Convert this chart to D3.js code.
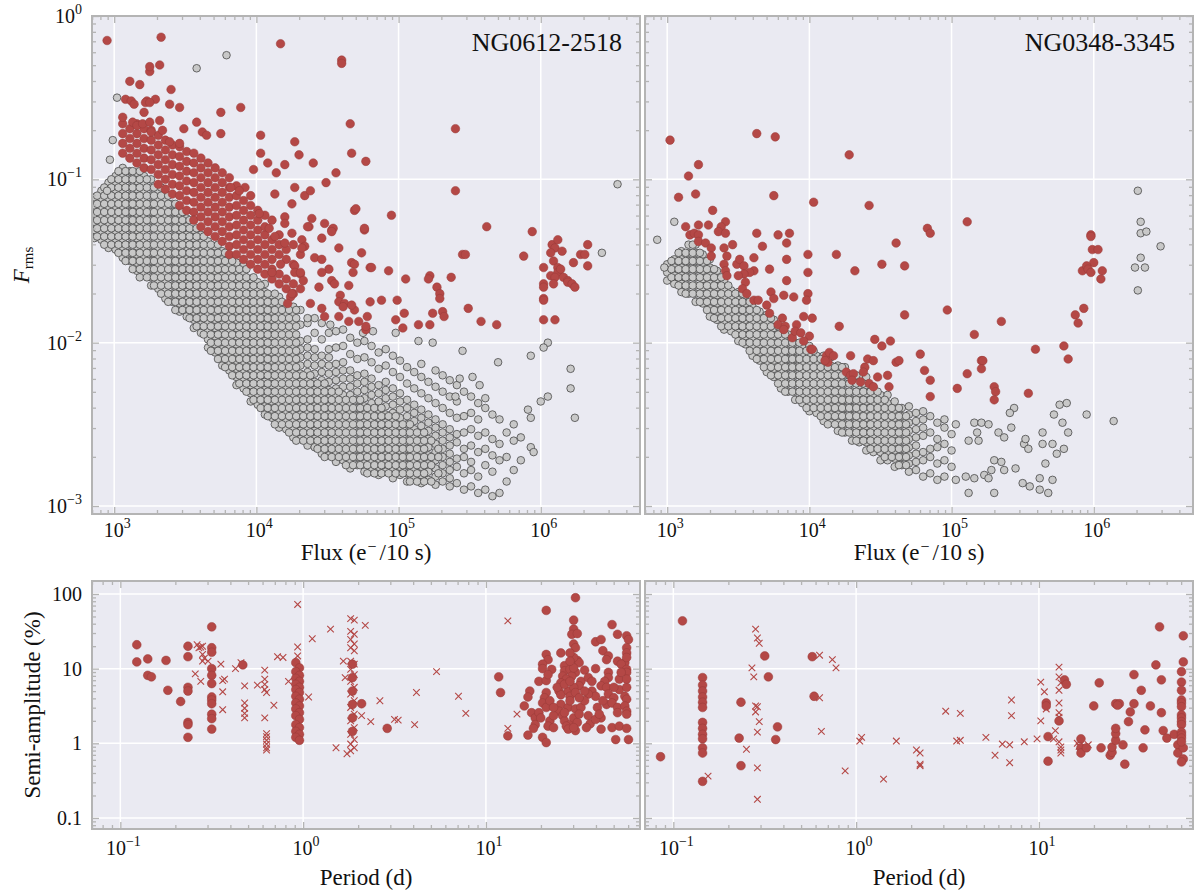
<!DOCTYPE html>
<html><head><meta charset="utf-8">
<script src="https://cdnjs.cloudflare.com/ajax/libs/d3/7.8.5/d3.min.js"></script>
<style>
body{margin:0;background:#fff}
svg{display:block}
text{font-family:"Liberation Serif","DejaVu Serif","Times New Roman",serif;fill:#111}
</style></head>
<body><svg id="chart" width="1200" height="891"></svg>
<script>
// ---------------- DATA (all values stored as log10) ----------------
const fluxTicks = [1e3, 1e4, 1e5, 1e6];
const fluxTickExp = ["3", "4", "5", "6"];
const frmsTicks = [1, 1e-1, 1e-2, 1e-3];
const frmsTickExp = ["0", "\u22121", "\u22122", "\u22123"];
const periodTicks = [0.1, 1, 10];
const periodTickExp = ["\u22121", "0", "1"];
const ampTicks = [100, 10, 1, 0.1];
const ampTickLabels = ["100", "10", "1", "0.1"];
const fieldNames = ["NG0612-2518", "NG0348-3345"];

// NG0612-2518 non-variable stars: columns [log10 flux, log10 Frms ...]
const grayColsA = [
[2.86,-1.36,-1.31,-1.26,-1.21,-1.16,-1.11],
[2.91,-1.37,-1.32,-1.27,-1.22,-1.17,-1.12,-1.07],
[2.96,-1.42,-1.37,-1.32,-1.27,-1.22,-1.17,-1.12,-1.07,-1.02],
[3.01,-1.43,-1.38,-1.33,-1.28,-1.23,-1.18,-1.13,-1.08,-1.03,-0.98],
[3.06,-1.48,-1.43,-1.38,-1.33,-1.28,-1.23,-1.18,-1.13,-1.08,-1.03,-0.98,-0.93],
[3.11,-1.50,-1.45,-1.40,-1.35,-1.30,-1.25,-1.20,-1.15,-1.10,-1.05,-1.00,-0.95],
[3.16,-1.56,-1.51,-1.46,-1.41,-1.36,-1.31,-1.26,-1.21,-1.16,-1.11,-1.06,-1.01,-0.96],
[3.21,-1.58,-1.53,-1.48,-1.43,-1.38,-1.33,-1.28,-1.23,-1.18,-1.13,-1.08,-1.03,-0.98],
[3.26,-1.65,-1.60,-1.55,-1.50,-1.45,-1.40,-1.35,-1.30,-1.25,-1.20,-1.15,-1.10,-1.05,-1.00],
[3.31,-1.67,-1.62,-1.57,-1.52,-1.47,-1.42,-1.37,-1.32,-1.27,-1.22,-1.17,-1.12,-1.07],
[3.36,-1.73,-1.68,-1.63,-1.58,-1.53,-1.48,-1.43,-1.38,-1.33,-1.28,-1.23,-1.18,-1.13,-1.08],
[3.41,-1.75,-1.70,-1.65,-1.60,-1.55,-1.50,-1.45,-1.40,-1.35,-1.30,-1.25,-1.20,-1.15],
[3.46,-1.81,-1.76,-1.71,-1.66,-1.61,-1.56,-1.51,-1.46,-1.41,-1.36,-1.31,-1.26,-1.21],
[3.51,-1.84,-1.79,-1.74,-1.69,-1.64,-1.59,-1.54,-1.49,-1.44,-1.39,-1.34,-1.29,-1.24],
[3.56,-1.91,-1.86,-1.81,-1.76,-1.71,-1.66,-1.61,-1.56,-1.51,-1.46,-1.41,-1.36,-1.31],
[3.61,-1.94,-1.89,-1.84,-1.79,-1.74,-1.69,-1.64,-1.59,-1.54,-1.49,-1.44,-1.39,-1.34],
[3.66,-2.03,-1.98,-1.93,-1.88,-1.83,-1.78,-1.73,-1.68,-1.63,-1.58,-1.53,-1.48,-1.43,-1.38],
[3.71,-2.06,-2.01,-1.96,-1.91,-1.86,-1.81,-1.76,-1.71,-1.66,-1.61,-1.56,-1.51,-1.46,-1.41],
[3.76,-2.14,-2.09,-2.04,-1.99,-1.94,-1.89,-1.84,-1.79,-1.74,-1.69,-1.64,-1.59,-1.54,-1.49,-1.44],
[3.81,-2.17,-2.12,-2.07,-2.02,-1.97,-1.92,-1.87,-1.82,-1.77,-1.72,-1.67,-1.62,-1.57,-1.52,-1.47],
[3.86,-2.26,-2.21,-2.16,-2.11,-2.06,-2.01,-1.96,-1.91,-1.86,-1.81,-1.76,-1.71,-1.66,-1.61,-1.56,-1.51],
[3.91,-2.28,-2.23,-2.18,-2.13,-2.08,-2.03,-1.98,-1.93,-1.88,-1.83,-1.78,-1.73,-1.68,-1.63,-1.58,-1.53],
[3.96,-2.36,-2.31,-2.26,-2.21,-2.16,-2.11,-2.06,-2.01,-1.96,-1.91,-1.86,-1.81,-1.76,-1.71,-1.66,-1.61],
[4.01,-2.38,-2.33,-2.28,-2.23,-2.18,-2.13,-2.08,-2.03,-1.98,-1.93,-1.88,-1.83,-1.78,-1.73,-1.68,-1.63],
[4.06,-2.44,-2.39,-2.34,-2.29,-2.24,-2.19,-2.14,-2.09,-2.04,-1.99,-1.94,-1.89,-1.84,-1.79,-1.74,-1.69,-1.64],
[4.11,-2.46,-2.41,-2.36,-2.31,-2.26,-2.21,-2.16,-2.11,-2.06,-2.01,-1.96,-1.91,-1.86,-1.81,-1.76,-1.71],
[4.16,-2.52,-2.47,-2.42,-2.37,-2.32,-2.27,-2.22,-2.17,-2.12,-2.07,-2.02,-1.97,-1.92,-1.87,-1.82,-1.77,-1.72],
[4.21,-2.53,-2.48,-2.43,-2.38,-2.33,-2.28,-2.23,-2.18,-2.13,-2.08,-2.03,-1.98,-1.93,-1.88,-1.83,-1.78],
[4.26,-2.58,-2.53,-2.48,-2.43,-2.38,-2.33,-2.28,-2.23,-2.18,-2.13,-2.08,-2.03,-1.98,-1.93,-1.88,-1.83,-1.78],
[4.31,-2.59,-2.54,-2.49,-2.44,-2.39,-2.34,-2.29,-2.24,-2.19,-2.14,-2.09,-2.04,-1.99,-1.89,-1.80],
[4.36,-2.63,-2.58,-2.53,-2.48,-2.43,-2.38,-2.33,-2.28,-2.23,-2.18,-2.13,-2.08,-2.03,-1.98,-1.88],
[4.41,-2.64,-2.59,-2.54,-2.49,-2.44,-2.39,-2.34,-2.29,-2.24,-2.19,-2.14,-2.09,-2.04,-1.94,-1.85],
[4.46,-2.68,-2.63,-2.58,-2.53,-2.48,-2.43,-2.38,-2.33,-2.28,-2.23,-2.18,-2.13,-2.08,-1.98,-1.88],
[4.51,-2.69,-2.64,-2.59,-2.54,-2.49,-2.44,-2.39,-2.34,-2.29,-2.24,-2.19,-2.14,-2.09,-2.04,-1.94],
[4.56,-2.73,-2.68,-2.63,-2.58,-2.53,-2.48,-2.43,-2.38,-2.33,-2.28,-2.23,-2.18,-2.13,-2.03,-1.93],
[4.61,-2.72,-2.67,-2.62,-2.57,-2.52,-2.47,-2.42,-2.37,-2.32,-2.27,-2.22,-2.17,-2.12,-2.02,-1.92],
[4.66,-2.77,-2.72,-2.67,-2.62,-2.57,-2.52,-2.47,-2.42,-2.37,-2.32,-2.27,-2.22,-2.17,-2.07,-1.97],
[4.71,-2.75,-2.70,-2.65,-2.60,-2.55,-2.50,-2.45,-2.40,-2.35,-2.30,-2.25,-2.20,-2.10,-2.00],
[4.76,-2.79,-2.74,-2.69,-2.64,-2.59,-2.54,-2.49,-2.44,-2.39,-2.34,-2.29,-2.24,-2.19,-2.09,-1.99],
[4.81,-2.77,-2.72,-2.67,-2.62,-2.57,-2.52,-2.47,-2.42,-2.37,-2.32,-2.27,-2.22,-2.12,-2.02],
[4.86,-2.81,-2.76,-2.71,-2.66,-2.61,-2.56,-2.51,-2.46,-2.41,-2.36,-2.31,-2.26,-2.16,-2.06],
[4.91,-2.79,-2.74,-2.69,-2.64,-2.59,-2.54,-2.49,-2.44,-2.39,-2.34,-2.29,-2.24,-2.14,-2.04],
[4.96,-2.83,-2.78,-2.73,-2.68,-2.63,-2.58,-2.53,-2.48,-2.43,-2.38,-2.33,-2.28,-2.18,-2.08],
[5.01,-2.81,-2.76,-2.71,-2.66,-2.61,-2.56,-2.51,-2.46,-2.41,-2.36,-2.31,-2.21,-2.11],
[5.06,-2.85,-2.80,-2.75,-2.70,-2.65,-2.60,-2.55,-2.50,-2.45,-2.40,-2.35,-2.25,-2.15],
[5.11,-2.83,-2.78,-2.73,-2.68,-2.63,-2.58,-2.53,-2.48,-2.43,-2.38,-2.28,-2.18],
[5.16,-2.86,-2.81,-2.76,-2.71,-2.66,-2.61,-2.56,-2.51,-2.46,-2.41,-2.31,-2.21,-2.13],
[5.21,-2.84,-2.79,-2.74,-2.69,-2.64,-2.59,-2.54,-2.49,-2.44,-2.34,-2.24],
[5.26,-2.87,-2.82,-2.77,-2.72,-2.67,-2.62,-2.57,-2.52,-2.47,-2.37,-2.27,-2.17],
[5.31,-2.85,-2.80,-2.75,-2.70,-2.65,-2.60,-2.55,-2.50,-2.40,-2.30,-2.20],
[5.36,-2.88,-2.83,-2.78,-2.73,-2.68,-2.63,-2.58,-2.53,-2.43,-2.33,-2.23],
[5.41,-2.86,-2.76,-2.71,-2.61,-2.56,-2.46,-2.36,-2.26],
[5.46,-2.90,-2.80,-2.70,-2.65,-2.55,-2.45,-2.30],
[5.51,-2.88,-2.78,-2.73,-2.63,-2.53,-2.43,-2.33],
[5.56,-2.92,-2.82,-2.67,-2.57,-2.47,-2.37],
[5.61,-2.90,-2.75,-2.65,-2.55,-2.40],
[5.66,-2.94,-2.79,-2.69,-2.59,-2.44],
[5.71,-2.92,-2.72,-2.62,-2.47],
[5.76,-2.85,-2.70,-2.55],
[5.81,-2.78,-2.60,-2.50],
[5.86,-2.72,-2.58]
];
// NG0612-2518 non-variable stars, interleaved columns of the dense core
const grayColsA2 = [
[2.88,-1.35,-1.30,-1.25,-1.20,-1.15,-1.10],
[2.93,-1.40,-1.35,-1.30,-1.25,-1.20,-1.15,-1.10,-1.05],
[2.98,-1.40,-1.35,-1.30,-1.25,-1.20,-1.15,-1.10,-1.05,-1.00],
[3.03,-1.45,-1.40,-1.35,-1.30,-1.25,-1.20,-1.15,-1.10,-1.05,-1.00,-0.95],
[3.08,-1.50,-1.45,-1.40,-1.35,-1.30,-1.25,-1.20,-1.15,-1.10,-1.05,-1.00,-0.95],
[3.13,-1.55,-1.50,-1.45,-1.40,-1.35,-1.30,-1.25,-1.20,-1.15,-1.10,-1.05,-1.00,-0.95],
[3.18,-1.60,-1.55,-1.50,-1.45,-1.40,-1.35,-1.30,-1.25,-1.20,-1.15,-1.10,-1.05,-1.00,-0.95],
[3.23,-1.60,-1.55,-1.50,-1.45,-1.40,-1.35,-1.30,-1.25,-1.20,-1.15,-1.10,-1.05,-1.00],
[3.28,-1.65,-1.60,-1.55,-1.50,-1.45,-1.40,-1.35,-1.30,-1.25,-1.20,-1.15,-1.10,-1.05],
[3.33,-1.70,-1.65,-1.60,-1.55,-1.50,-1.45,-1.40,-1.35,-1.30,-1.25,-1.20,-1.15,-1.10,-1.05],
[3.38,-1.75,-1.70,-1.65,-1.60,-1.55,-1.50,-1.45,-1.40,-1.35,-1.30,-1.25,-1.20,-1.15,-1.10],
[3.43,-1.80,-1.75,-1.70,-1.65,-1.60,-1.55,-1.50,-1.45,-1.40,-1.35,-1.30,-1.25,-1.20,-1.15],
[3.48,-1.80,-1.75,-1.70,-1.65,-1.60,-1.55,-1.50,-1.45,-1.40,-1.35,-1.30,-1.25,-1.20],
[3.53,-1.85,-1.80,-1.75,-1.70,-1.65,-1.60,-1.55,-1.50,-1.45,-1.40,-1.35,-1.30,-1.25],
[3.58,-1.90,-1.85,-1.80,-1.75,-1.70,-1.65,-1.60,-1.55,-1.50,-1.45,-1.40,-1.35,-1.30],
[3.63,-1.95,-1.90,-1.85,-1.80,-1.75,-1.70,-1.65,-1.60,-1.55,-1.50,-1.45,-1.40,-1.35],
[3.68,-2.05,-2.00,-1.95,-1.90,-1.85,-1.80,-1.75,-1.70,-1.65,-1.60,-1.55,-1.50,-1.45,-1.40],
[3.73,-2.10,-2.05,-2.00,-1.95,-1.90,-1.85,-1.80,-1.75,-1.70,-1.65,-1.60,-1.55,-1.50,-1.45,-1.40],
[3.78,-2.15,-2.10,-2.05,-2.00,-1.95,-1.90,-1.85,-1.80,-1.75,-1.70,-1.65,-1.60,-1.55,-1.50,-1.45],
[3.83,-2.20,-2.15,-2.10,-2.05,-2.00,-1.95,-1.90,-1.85,-1.80,-1.75,-1.70,-1.65,-1.60,-1.55,-1.50],
[3.88,-2.25,-2.20,-2.15,-2.10,-2.05,-2.00,-1.95,-1.90,-1.85,-1.80,-1.75,-1.70,-1.65,-1.60,-1.55],
[3.93,-2.30,-2.25,-2.20,-2.15,-2.10,-2.05,-2.00,-1.95,-1.90,-1.85,-1.80,-1.75,-1.70,-1.65,-1.60,-1.55],
[3.98,-2.35,-2.30,-2.25,-2.20,-2.15,-2.10,-2.05,-2.00,-1.95,-1.90,-1.85,-1.80,-1.75,-1.70,-1.65,-1.60],
[4.03,-2.40,-2.35,-2.30,-2.25,-2.20,-2.15,-2.10,-2.05,-2.00,-1.95,-1.90,-1.85,-1.80,-1.75,-1.70,-1.65],
[4.08,-2.45,-2.40,-2.35,-2.30,-2.25,-2.20,-2.15,-2.10,-2.05,-2.00,-1.95,-1.90,-1.85,-1.80,-1.75,-1.70],
[4.13,-2.50,-2.45,-2.40,-2.35,-2.30,-2.25,-2.20,-2.15,-2.10,-2.05,-2.00,-1.95,-1.90,-1.85,-1.80,-1.75,-1.70],
[4.18,-2.50,-2.45,-2.40,-2.35,-2.30,-2.25,-2.20,-2.15,-2.10,-2.05,-2.00,-1.95,-1.90,-1.85,-1.80,-1.75],
[4.23,-2.55,-2.50,-2.45,-2.40,-2.35,-2.30,-2.25,-2.20,-2.15,-2.10,-2.05,-2.00,-1.95,-1.90,-1.85,-1.80],
[4.28,-2.60,-2.55,-2.50,-2.45,-2.40,-2.35,-2.30,-2.25,-2.20,-2.15,-2.10,-2.05,-2.00,-1.95,-1.90,-1.85,-1.80],
[4.33,-2.60,-2.55,-2.50,-2.45,-2.40,-2.35,-2.30,-2.25,-2.20],
[4.38,-2.60,-2.55,-2.50,-2.45,-2.40,-2.35,-2.30,-2.25,-2.20],
[4.43,-2.65,-2.60,-2.55,-2.50,-2.45,-2.40,-2.35,-2.30,-2.25],
[4.48,-2.70,-2.65,-2.60,-2.55,-2.50,-2.45,-2.40,-2.35,-2.30,-2.25],
[4.53,-2.70,-2.65,-2.60,-2.55,-2.50,-2.45,-2.40,-2.35,-2.30],
[4.58,-2.70,-2.65,-2.60,-2.55,-2.50,-2.45,-2.40,-2.35,-2.30],
[4.63,-2.75,-2.70,-2.65,-2.60,-2.55,-2.50,-2.45,-2.40,-2.35],
[4.68,-2.75,-2.70,-2.65,-2.60,-2.55,-2.50,-2.45,-2.40,-2.35],
[4.73,-2.75,-2.70,-2.65,-2.60,-2.55,-2.50,-2.45,-2.40,-2.35],
[4.78,-2.80,-2.75,-2.70,-2.65,-2.60,-2.55,-2.50,-2.45,-2.40],
[4.83,-2.80,-2.75,-2.70,-2.65,-2.60,-2.55,-2.50,-2.45,-2.40],
[4.88,-2.80,-2.75,-2.70,-2.65,-2.60,-2.55,-2.50,-2.45,-2.40],
[4.93,-2.80,-2.75,-2.70,-2.65,-2.60,-2.55,-2.50,-2.45],
[4.98,-2.80,-2.75,-2.70,-2.65,-2.60,-2.55,-2.50,-2.45],
[5.03,-2.80,-2.75,-2.70,-2.65,-2.60,-2.55,-2.50],
[5.08,-2.85,-2.80,-2.75,-2.70,-2.65,-2.60,-2.55,-2.50],
[5.13,-2.85,-2.80,-2.75,-2.70,-2.65,-2.60,-2.55],
[5.18,-2.85,-2.80,-2.75,-2.70,-2.65,-2.60,-2.55],
[5.23,-2.85,-2.75,-2.70,-2.60],
[5.28,-2.80,-2.70,-2.65]
];
// NG0612-2518 isolated non-variable stars [log10 flux, log10 Frms]
const grayPtsA = [
[3.02,-0.50],[2.99,-0.76],[2.97,-0.88],[2.95,-1.07],[3.58,-0.32],[3.79,-0.24],[6.54,-1.03],[6.43,-1.45],
[6.05,-2.00],[6.02,-2.03],[5.93,-2.08],[5.70,-2.12],[6.21,-2.16],[6.21,-2.28],[6.24,-2.46],[6.05,-2.33],
[6.00,-2.36],[5.91,-2.41],[5.93,-2.46],[5.93,-2.64],[5.95,-2.67],[5.14,-1.99],[5.24,-2.00],[5.45,-2.05],
[5.52,-2.21],[5.43,-2.22],[5.57,-2.26],[5.40,-2.33],[5.61,-2.34],[4.36,-1.85],[4.52,-1.89],[4.75,-1.94],
[4.82,-1.93],[4.98,-1.94]
];
// NG0612-2518 variable stars, dense band: columns [log10 flux, log10 Frms ...]
const redColsA = [
[3.06,-0.66,-0.72,-0.78,-0.84],
[3.11,-0.69,-0.75,-0.81,-0.87],
[3.16,-0.66,-0.72,-0.78,-0.84,-0.90],
[3.21,-0.69,-0.75,-0.81,-0.87,-0.93],
[3.26,-0.70,-0.76,-0.82,-0.88,-0.94],
[3.31,-0.73,-0.79,-0.85,-0.91,-0.97,-1.03],
[3.36,-0.76,-0.82,-0.88,-0.94,-1.00,-1.06],
[3.41,-0.79,-0.85,-0.91,-0.97,-1.03,-1.09],
[3.46,-0.80,-0.86,-0.92,-0.98,-1.04,-1.10,-1.16],
[3.51,-0.83,-0.89,-0.95,-1.01,-1.07,-1.13,-1.19],
[3.56,-0.84,-0.90,-0.96,-1.02,-1.08,-1.14,-1.20,-1.25],
[3.61,-0.87,-0.93,-0.99,-1.05,-1.11,-1.17,-1.23,-1.29],
[3.66,-0.90,-0.96,-1.02,-1.08,-1.14,-1.20,-1.26,-1.32],
[3.71,-0.93,-0.99,-1.05,-1.11,-1.17,-1.23,-1.29,-1.35],
[3.76,-0.96,-1.02,-1.08,-1.14,-1.20,-1.26,-1.32,-1.38],
[3.81,-0.99,-1.05,-1.11,-1.17,-1.23,-1.29,-1.35,-1.41,-1.46],
[3.86,-1.04,-1.10,-1.16,-1.22,-1.28,-1.34,-1.40,-1.46],
[3.91,-1.13,-1.19,-1.25,-1.31,-1.37,-1.43,-1.49],
[3.96,-1.10,-1.16,-1.22,-1.28,-1.34,-1.40,-1.46,-1.52],
[4.01,-1.19,-1.25,-1.31,-1.37,-1.43,-1.49,-1.55],
[4.06,-1.22,-1.34,-1.40,-1.46,-1.52,-1.58],
[4.11,-1.25,-1.37,-1.43,-1.49,-1.55,-1.61],
[4.16,-1.34,-1.40,-1.46,-1.58,-1.64],
[4.21,-1.43,-1.49,-1.61,-1.67],
[4.26,-1.40,-1.52,-1.64,-1.70],
[4.31,-1.46,-1.58,-1.67]
];
// NG0612-2518 variable stars, scattered [log10 flux, log10 Frms]
const redPtsA = [
[2.95,-0.15],[3.33,-0.13],[4.17,-0.17],[4.60,-0.27],[4.60,-0.29],[3.11,-0.40],[3.18,-0.42],[3.25,-0.34],
[3.25,-0.31],[3.32,-0.30],[3.40,-0.45],[3.08,-0.51],[3.12,-0.52],[3.14,-0.54],[3.23,-0.52],[3.29,-0.51],
[3.39,-0.54],[3.46,-0.56],[3.21,-0.59],[3.22,-0.53],[3.25,-0.53],[3.06,-0.62],[3.13,-0.65],[3.16,-0.67],
[3.20,-0.66],[3.25,-0.65],[3.32,-0.64],[3.26,-0.71],[3.34,-0.70],[3.39,-0.77],[3.46,-0.78],[3.49,-0.69],
[3.58,-0.65],[3.62,-0.71],[3.65,-0.73],[3.75,-0.59],[3.75,-0.72],[3.89,-0.56],[4.03,-0.73],[4.27,-0.77],
[4.30,-0.85],[4.66,-0.66],[4.67,-0.84],[4.77,-0.89],[4.03,-0.84],[4.08,-0.90],[4.20,-0.91],[4.14,-0.96],
[3.98,-0.94],[4.40,-0.90],[4.56,-0.96],[4.49,-1.02],[4.69,-1.19],[4.76,-1.31],[4.80,-1.54],[5.40,-0.69],
[5.40,-1.07],[3.82,-1.05],[3.92,-1.05],[3.88,-1.07],[4.13,-1.09],[4.25,-1.15],[4.27,-1.05],[4.34,-1.10],
[4.38,-1.07],[4.39,-1.24],[4.20,-1.23],[4.20,-1.27],[4.02,-1.21],[4.06,-1.29],[4.09,-1.30],[4.13,-1.35],
[4.25,-1.33],[4.32,-1.37],[4.34,-1.41],[4.20,-1.39],[4.37,-1.29],[4.48,-1.27],[4.53,-1.31],[4.46,-1.36],
[4.58,-1.42],[4.67,-1.51],[4.69,-1.52],[4.74,-1.45],[4.41,-1.48],[4.46,-1.49],[4.51,-1.55],[4.53,-1.62],
[4.55,-1.64],[4.46,-1.57],[4.44,-1.66],[4.27,-1.53],[4.27,-1.57],[4.31,-1.57],[4.17,-1.52],[4.11,-1.57],
[4.59,-1.71],[4.65,-1.65],[4.69,-1.80],[4.58,-1.75],[4.62,-1.76],[4.38,-1.76],[4.46,-1.79],[4.48,-1.84],
[4.58,-1.84],[4.65,-1.87],[4.72,-1.87],[4.77,-1.92],[4.24,-1.72],[4.25,-1.70],[4.22,-1.76],[4.70,-1.18],
[4.95,-1.22],[4.36,-1.29],[4.54,-1.30],[4.53,-1.32],[4.76,-1.30],[5.62,-1.29],[5.94,-1.32],[4.32,-1.42],
[4.81,-1.54],[4.93,-1.56],[5.45,-1.46],[5.47,-1.46],[4.68,-1.57],[4.33,-1.62],[5.05,-1.61],[5.22,-1.59],
[5.21,-1.61],[5.37,-1.60],[4.61,-1.78],[4.67,-1.77],[4.80,-1.75],[4.88,-1.74],[4.99,-1.74],[5.27,-1.66],
[5.29,-1.70],[5.29,-1.73],[4.78,-1.84],[4.77,-1.90],[4.98,-1.86],[5.04,-1.82],[5.03,-1.91],[5.14,-1.89],
[5.22,-1.89],[5.24,-1.82],[5.31,-1.81],[5.32,-1.84],[5.49,-1.79],[5.58,-1.87],[5.69,-1.89],
[5.88,-1.47],[6.02,-1.54],[6.08,-1.40],[6.12,-1.37],[6.10,-1.42],[6.15,-1.44],[6.07,-1.45],[6.09,-1.50],
[6.23,-1.51],[6.33,-1.40],[6.28,-1.46],[6.31,-1.46],[6.33,-1.53],[6.12,-1.54],[6.12,-1.57],[6.14,-1.55],
[6.07,-1.59],[6.10,-1.60],[6.16,-1.60],[6.19,-1.62],[6.19,-1.63],[6.22,-1.64],[6.24,-1.66],[6.02,-1.64],
[6.02,-1.66],[6.09,-1.64],[6.02,-1.73],[6.02,-1.74],[6.02,-1.86],[6.10,-1.86]
];

// NG0348-3345 non-variable stars: columns [log10 flux, log10 Frms ...]
const grayColsB = [
[3.00,-1.62,-1.57,-1.52],
[3.05,-1.64,-1.59,-1.54,-1.49],
[3.10,-1.69,-1.64,-1.59,-1.54,-1.49,-1.44],
[3.15,-1.70,-1.65,-1.60,-1.55,-1.50,-1.45,-1.40],
[3.20,-1.75,-1.70,-1.65,-1.60,-1.55,-1.50,-1.45,-1.40],
[3.25,-1.76,-1.71,-1.66,-1.61,-1.56,-1.51,-1.46],
[3.30,-1.84,-1.79,-1.74,-1.69,-1.64,-1.59,-1.54,-1.49],
[3.35,-1.86,-1.81,-1.76,-1.71,-1.66,-1.61,-1.56],
[3.40,-1.92,-1.87,-1.82,-1.77,-1.72,-1.67,-1.62],
[3.45,-1.93,-1.88,-1.83,-1.78,-1.73,-1.68],
[3.50,-1.99,-1.94,-1.89,-1.84,-1.79,-1.74,-1.69],
[3.55,-2.01,-1.96,-1.91,-1.86,-1.81,-1.76,-1.71],
[3.60,-2.08,-2.03,-1.98,-1.93,-1.88,-1.83,-1.78],
[3.65,-2.11,-2.06,-2.01,-1.96,-1.91,-1.86,-1.81],
[3.70,-2.18,-2.13,-2.08,-2.03,-1.98,-1.93,-1.88,-1.83],
[3.75,-2.21,-2.16,-2.11,-2.06,-2.01,-1.96,-1.91,-1.86],
[3.80,-2.28,-2.23,-2.18,-2.13,-2.08,-2.03,-1.98,-1.93],
[3.85,-2.30,-2.25,-2.20,-2.15,-2.10,-2.05,-2.00,-1.95],
[3.90,-2.35,-2.30,-2.25,-2.20,-2.15,-2.10,-2.05,-2.00],
[3.95,-2.37,-2.32,-2.27,-2.22,-2.17,-2.12,-2.07,-2.02],
[4.00,-2.42,-2.37,-2.32,-2.27,-2.22,-2.17,-2.12,-2.07,-2.02],
[4.05,-2.43,-2.38,-2.33,-2.28,-2.23,-2.18,-2.13,-2.08],
[4.10,-2.48,-2.43,-2.38,-2.33,-2.28,-2.23,-2.18,-2.13,-2.08],
[4.15,-2.49,-2.44,-2.39,-2.34,-2.29,-2.24,-2.19,-2.14,-2.09],
[4.20,-2.54,-2.49,-2.44,-2.39,-2.34,-2.29,-2.24,-2.19,-2.14],
[4.25,-2.55,-2.50,-2.45,-2.40,-2.35,-2.30,-2.25,-2.20,-2.15],
[4.30,-2.60,-2.55,-2.50,-2.45,-2.40,-2.35,-2.30,-2.25,-2.20],
[4.35,-2.61,-2.56,-2.51,-2.46,-2.41,-2.36,-2.31,-2.26,-2.21],
[4.40,-2.66,-2.61,-2.56,-2.51,-2.46,-2.41,-2.36,-2.31,-2.26,-2.21],
[4.45,-2.67,-2.62,-2.57,-2.52,-2.47,-2.42,-2.37,-2.32,-2.27],
[4.50,-2.72,-2.67,-2.62,-2.57,-2.52,-2.47,-2.42,-2.37,-2.32],
[4.55,-2.72,-2.67,-2.62,-2.57,-2.52,-2.47,-2.42,-2.37,-2.32],
[4.60,-2.76,-2.71,-2.66,-2.61,-2.56,-2.51,-2.46,-2.41,-2.36],
[4.65,-2.75,-2.70,-2.65,-2.60,-2.55,-2.50,-2.45,-2.40],
[4.70,-2.79,-2.74,-2.69,-2.64,-2.59,-2.54,-2.49,-2.44,-2.39],
[4.75,-2.78,-2.73,-2.68,-2.63,-2.58,-2.53,-2.48,-2.43],
[4.80,-2.82,-2.72,-2.67,-2.57,-2.52,-2.47,-2.42],
[4.85,-2.80,-2.70,-2.65,-2.55,-2.45],
[4.90,-2.84,-2.74,-2.64,-2.59,-2.49],
[4.95,-2.82,-2.72,-2.62,-2.52,-2.47],
[5.00,-2.76,-2.66,-2.56]
];
// NG0348-3345 non-variable stars, interleaved columns of the dense core
const grayColsB2 = [
[3.03,-1.60,-1.55,-1.50],
[3.08,-1.65,-1.60,-1.55,-1.50,-1.45],
[3.13,-1.70,-1.65,-1.60,-1.55,-1.50,-1.45],
[3.18,-1.70,-1.65,-1.60,-1.55,-1.50,-1.45,-1.40],
[3.23,-1.75,-1.70,-1.65,-1.60,-1.55,-1.50,-1.45],
[3.28,-1.80,-1.75,-1.70,-1.65,-1.60,-1.55,-1.50],
[3.33,-1.85,-1.80,-1.75,-1.70,-1.65,-1.60,-1.55],
[3.38,-1.90,-1.85,-1.80,-1.75,-1.70,-1.65,-1.60],
[3.43,-1.90,-1.85,-1.80,-1.75,-1.70,-1.65],
[3.48,-1.95,-1.90,-1.85,-1.80,-1.75,-1.70],
[3.53,-2.00,-1.95,-1.90,-1.85,-1.80,-1.75,-1.70],
[3.58,-2.05,-2.00,-1.95,-1.90,-1.85,-1.80,-1.75],
[3.63,-2.10,-2.05,-2.00,-1.95,-1.90,-1.85,-1.80],
[3.68,-2.15,-2.10,-2.05,-2.00,-1.95,-1.90,-1.85],
[3.73,-2.20,-2.15,-2.10,-2.05,-2.00,-1.95,-1.90,-1.85],
[3.78,-2.25,-2.20,-2.15,-2.10,-2.05,-2.00,-1.95,-1.90],
[3.83,-2.30,-2.25,-2.20,-2.15,-2.10,-2.05,-2.00,-1.95],
[3.88,-2.30,-2.25,-2.20,-2.15,-2.10,-2.05,-2.00],
[3.93,-2.35,-2.30,-2.25,-2.20,-2.15,-2.10,-2.05,-2.00],
[3.98,-2.40,-2.35,-2.30,-2.25,-2.20,-2.15,-2.10,-2.05],
[4.03,-2.40,-2.35,-2.30,-2.25,-2.20,-2.15,-2.10,-2.05],
[4.08,-2.45,-2.40,-2.35,-2.30,-2.25,-2.20,-2.15,-2.10],
[4.13,-2.50,-2.45,-2.40,-2.35,-2.30,-2.25,-2.20,-2.15,-2.10],
[4.18,-2.50,-2.45,-2.40,-2.35,-2.30,-2.25,-2.20,-2.15],
[4.23,-2.55,-2.50,-2.45,-2.40,-2.35,-2.30,-2.25,-2.20,-2.15],
[4.28,-2.55,-2.50,-2.45,-2.40,-2.35,-2.30,-2.25,-2.20],
[4.33,-2.60,-2.55,-2.50,-2.45,-2.40,-2.35,-2.30,-2.25,-2.20],
[4.38,-2.60,-2.55,-2.50,-2.45,-2.40,-2.35,-2.30,-2.25],
[4.43,-2.65,-2.60,-2.55,-2.50,-2.45,-2.40,-2.35,-2.30],
[4.48,-2.65,-2.60,-2.55,-2.50,-2.45,-2.40,-2.35,-2.30],
[4.53,-2.70,-2.65,-2.60,-2.55,-2.50,-2.45,-2.40,-2.35],
[4.58,-2.70,-2.65,-2.60,-2.55,-2.50,-2.45,-2.40],
[4.63,-2.75,-2.70,-2.65,-2.60,-2.55,-2.50,-2.45,-2.40],
[4.68,-2.75,-2.70,-2.65,-2.60,-2.55,-2.50,-2.45]
];
const grayPtsB = [
[5.03,-2.50],[5.16,-2.49],[5.21,-2.49],[5.26,-2.50],[5.18,-2.55],[5.12,-2.60],[5.19,-2.60],[5.33,-2.55],
[5.37,-2.58],[5.42,-2.52],[5.44,-2.40],[5.41,-2.43],[5.30,-2.72],[5.35,-2.73],[5.28,-2.78],[5.37,-2.78],
[5.23,-2.81],[5.26,-2.83],[5.16,-2.83],[5.10,-2.82],[5.03,-2.84],[5.12,-2.92],[5.30,-2.92],[5.51,-2.62],
[5.52,-2.59],[5.54,-2.65],[5.45,-2.77],[5.50,-2.86],[5.55,-2.88],[5.62,-2.90],[5.68,-2.92],[5.62,-2.83],
[5.71,-2.84],[5.66,-2.74],[5.64,-2.55],[5.64,-2.62],[5.71,-2.62],[5.74,-2.68],[5.79,-2.65],[5.72,-2.44],
[5.76,-2.38],[5.81,-2.37],[5.78,-2.49],[5.82,-2.55],[5.95,-2.44],[6.14,-2.48],
[2.93,-1.37],[3.05,-1.26],[2.98,-1.54],[6.31,-1.07],[6.33,-1.26],[6.33,-1.33],[6.37,-1.32],[6.47,-1.41],
[6.33,-1.48],[6.36,-1.54],[6.29,-1.54],[6.31,-1.68]
];
// NG0348-3345 variable stars [log10 flux, log10 Frms]
const redPtsB = [
[3.02,-0.76],[3.63,-0.72],[3.76,-0.74],[4.28,-0.85],[3.22,-0.91],[3.15,-0.98],[3.08,-1.11],[3.20,-1.09],
[3.75,-1.10],[4.03,-1.14],[4.42,-1.16],[3.32,-1.19],[5.11,-1.26],[3.13,-1.29],[3.22,-1.28],[3.29,-1.28],
[3.41,-1.26],[3.38,-1.29],[3.36,-1.32],[3.41,-1.33],[3.16,-1.34],[3.19,-1.33],[3.22,-1.34],[3.22,-1.38],
[3.27,-1.39],[3.31,-1.42],[3.40,-1.42],[3.46,-1.40],[3.31,-1.47],[3.42,-1.47],[3.40,-1.52],[3.41,-1.56],
[3.42,-1.59],[3.49,-1.52],[3.51,-1.49],[3.54,-1.53],[3.61,-1.56],[3.58,-1.57],[3.54,-1.58],[3.50,-1.59],
[3.61,-1.48],[3.63,-1.33],[3.67,-1.41],[3.72,-1.55],[3.78,-1.34],[3.86,-1.33],[3.84,-1.39],[3.84,-1.49],
[3.84,-1.62],[3.99,-1.46],[3.99,-1.57],[4.19,-1.46],[4.32,-1.56],[4.51,-1.52],[4.61,-1.39],[4.67,-1.53],
[4.83,-1.30],[4.85,-1.33],[3.55,-1.63],[3.53,-1.67],[3.56,-1.70],[3.61,-1.74],[3.64,-1.74],[3.70,-1.77],
[3.73,-1.69],[3.75,-1.73],[3.82,-1.71],[3.89,-1.72],[3.99,-1.70],[3.98,-1.74],[3.72,-1.82],[3.81,-1.85],
[3.78,-1.89],[3.83,-1.90],[3.82,-1.92],[3.88,-1.97],[3.91,-1.89],[3.90,-1.93],[3.94,-1.94],[3.96,-1.84],
[4.02,-1.85],[4.00,-1.96],[3.96,-1.99],[4.01,-2.04],[4.02,-2.04],[4.12,-2.08],[4.14,-2.06],[4.17,-2.08],
[4.13,-2.12],[4.11,-2.11],[4.21,-1.90],[4.29,-2.08],[4.26,-2.18],[4.29,-2.20],[4.31,-2.19],[4.30,-2.23],
[4.36,-2.24],[4.39,-2.15],[4.38,-2.18],[4.41,-2.10],[4.45,-2.11],[4.42,-2.25],[4.45,-2.27],[4.48,-2.21],
[4.55,-2.20],[4.56,-2.27],[4.46,-1.98],[4.51,-2.02],[4.57,-1.99],[4.67,-1.83],[4.61,-2.12],[4.63,-2.11],
[4.78,-2.07],[4.81,-2.17],[4.85,-2.23],[4.85,-2.33],[4.97,-1.80],[5.16,-1.95],[5.04,-2.28],[5.11,-2.19],
[5.21,-2.11],[5.22,-2.11],[5.21,-2.16],[5.35,-1.87],[5.30,-2.27],[5.31,-2.30],[5.30,-2.35],[5.54,-2.31],
[5.59,-2.04],[5.79,-2.02],[5.82,-2.10],[5.87,-1.83],[5.89,-1.88],[5.93,-1.79],[5.98,-1.34],[5.98,-1.35],
[5.99,-1.43],[6.03,-1.43],[6.00,-1.51],[5.92,-1.56],[5.95,-1.53],[5.96,-1.55],[5.98,-1.57],[6.06,-1.56],
[6.05,-1.61]
];

// Semi-amplitude vs period [log10 period (d), log10 semi-amplitude (%)]
const ampDotsA = [
[-0.91,1.32],[-0.91,1.09],[-0.85,1.13],[-0.75,1.11],[-0.85,0.91],[-0.83,0.89],[-0.74,0.71],[-0.67,0.56],
[-0.63,1.30],[-0.63,1.16],[-0.63,0.75],[-0.63,0.70],[-0.63,0.28],[-0.63,0.25],[-0.63,0.08],
[-0.50,1.56],[-0.50,1.28],[-0.50,1.22],[-0.50,1.00],[-0.50,0.91],[-0.50,0.80],[-0.50,0.62],[-0.50,0.58],
[-0.50,0.53],[-0.50,0.39],[-0.50,0.33],[-0.50,0.19],[-0.33,1.05],[1.07,0.89],[1.08,0.68],[1.12,0.10],
[1.23,0.11],[0.32,0.53],[0.46,0.20],
[-0.04,1.08],[-0.02,1.01],[-0.04,0.96],[-0.02,0.91],[-0.04,0.87],[-0.02,0.83],[-0.04,0.79],[-0.02,0.75],
[-0.04,0.72],[-0.02,0.68],[-0.04,0.63],[-0.02,0.59],[-0.04,0.54],[-0.02,0.50],[-0.04,0.46],[-0.02,0.41],
[-0.04,0.37],[-0.02,0.32],[-0.04,0.25],[-0.02,0.21],[-0.04,0.16],[-0.02,0.12],[-0.04,0.08],[-0.02,0.04],
[0.27,1.06],[0.27,0.88],[0.27,0.70],[0.27,0.52],[0.27,0.34],[0.27,0.16],
[1.49,1.95],[1.33,1.78],[1.48,1.65],[1.69,1.59],[1.48,1.53],[1.47,1.46],[1.50,1.47],[1.72,1.46],
[1.77,1.44],[1.78,1.39],[1.60,1.36],[1.63,1.39],[1.48,1.33],[1.49,1.28],[1.77,1.28],[1.77,1.21],
[1.64,1.24],[1.41,1.21],[1.33,1.19],[1.34,1.12],[1.67,1.17],[1.66,1.12],[1.50,1.11],[1.72,1.10],
[1.76,1.08],[1.31,1.06],[1.31,1.00],[1.43,1.04],[1.43,0.97],[1.60,1.00],[1.74,1.06],[1.77,0.99],
[1.77,0.95],[1.46,0.99],[1.49,0.95],[1.47,0.90],[1.54,0.98],[1.67,0.95],[1.67,0.88],[1.42,0.90],
[1.44,0.86],[1.29,0.83],[1.33,0.84],[1.52,0.83],[1.51,0.77],[1.65,0.83],[1.63,0.77],[1.66,0.75],
[1.73,0.86],[1.73,0.72],[1.77,0.75],[1.24,0.70],[1.23,0.62],[1.33,0.68],[1.32,0.61],[1.40,0.70],
[1.41,0.65],[1.45,0.70],[1.46,0.63],[1.48,0.75],[1.49,0.68],[1.58,0.70],[1.60,0.63],[1.56,0.66],
[1.67,0.66],[1.70,0.61],[1.76,0.63],[1.77,0.59],[1.21,0.50],[1.25,0.41],[1.27,0.34],[1.31,0.54],
[1.33,0.48],[1.35,0.57],[1.41,0.52],[1.40,0.43],[1.42,0.37],[1.45,0.48],[1.43,0.30],[1.46,0.25],
[1.49,0.46],[1.48,0.34],[1.50,0.28],[1.52,0.48],[1.54,0.57],[1.56,0.37],[1.57,0.26],[1.61,0.48],
[1.63,0.34],[1.66,0.52],[1.69,0.54],[1.72,0.48],[1.72,0.41],[1.76,0.50],[1.77,0.43],[1.77,0.39],
[1.27,0.25],[1.26,0.20],[1.35,0.30],[1.34,0.23],[1.37,0.37],[1.44,0.23],[1.45,0.19],[1.49,0.17],
[1.48,0.21],[1.31,0.08],[1.33,0.01],[1.69,0.21],[1.73,0.23],[1.77,0.20],[1.71,0.05],[1.78,0.05],
[1.60,0.32],[1.62,0.39],[1.37,0.21],[1.29,0.41],[1.30,0.34],[1.41,0.81],[1.39,0.75],[1.51,1.08],
[1.48,1.01],[1.56,0.88],[1.58,0.83],[1.36,0.99],[1.77,0.86],[1.77,1.15],[1.48,1.15],[1.46,1.21],
[1.34,0.92],[1.43,0.79],[1.46,0.83],[1.51,0.61],[1.54,0.70],[1.46,0.57],[1.51,0.39],[1.37,0.48],
[1.43,0.41],[1.64,0.57],[1.70,0.75],[1.74,0.95],[1.63,0.19],[1.55,0.21],[1.46,1.10]
];
const ampCrossA = [
[-0.58,1.32],[-0.56,1.29],[-0.55,1.30],[-0.57,1.28],[-0.55,1.19],[-0.54,1.14],[-0.55,1.10],[-0.52,1.10],
[-0.56,0.83],[-0.59,0.93],[-0.45,1.06],[-0.44,0.84],[-0.43,0.86],[-0.44,0.69],[-0.44,0.45],[-0.37,1.00],
[-0.34,1.08],[-0.32,0.77],[-0.32,0.54],[-0.32,0.47],[-0.32,0.40],[-0.32,0.34],[-0.25,0.78],[-0.21,0.98],
[-0.21,0.86],[-0.21,0.79],[-0.21,0.72],[-0.20,0.68],[-0.21,0.34],[-0.20,0.13],[-0.20,0.09],[-0.20,0.04],
[-0.20,-0.01],[-0.20,-0.06],[-0.20,-0.09],[-0.16,0.51],[-0.14,1.16],[-0.11,1.15],[-0.08,0.83],[-0.03,1.86],
[-0.03,1.29],[-0.03,1.17],[0.03,0.62],[0.05,1.40],[0.15,1.53],[0.22,1.10],[0.23,0.88],[0.18,-0.06],
[0.24,-0.14],
[0.26,1.67],[0.28,1.65],[0.26,1.50],[0.28,1.46],[0.26,1.39],[0.28,1.33],[0.26,1.28],[0.28,1.24],
[0.26,1.10],[0.28,1.06],[0.26,0.99],[0.28,0.92],[0.26,0.83],[0.28,0.75],[0.26,0.66],[0.28,0.57],
[0.26,0.48],[0.28,0.39],[0.26,0.30],[0.28,0.21],[0.26,0.12],[0.28,0.05],[0.26,-0.01],[0.28,-0.06],
[0.26,-0.10],
[0.34,1.58],[0.32,0.37],[0.37,0.29],[0.42,0.57],[0.50,0.32],[0.52,0.31],[0.61,0.25],[0.62,0.68],
[0.73,0.96],[0.85,0.63],[0.89,0.40],[1.12,1.64],[1.12,0.20],[1.17,0.39]
];
const ampDotsB = [
[-1.07,-0.18],[-0.95,1.64],
[-0.84,0.88],[-0.84,0.78],[-0.84,0.70],[-0.84,0.62],[-0.84,0.55],[-0.84,0.48],[-0.84,0.28],[-0.84,0.20],
[-0.84,0.12],[-0.84,0.06],[-0.84,-0.06],[-0.84,-0.13],[-0.84,-0.51],
[-0.63,0.55],[-0.64,0.07],[-0.63,-0.30],[-0.50,1.17],[-0.48,0.89],[-0.43,0.22],[-0.44,0.05],[-0.24,1.16],
[-0.23,0.63],
[1.04,0.54],[1.04,0.50],[1.05,0.09],[1.05,-0.24],[1.11,0.30],[1.23,0.06],[1.23,-0.06],[1.23,-0.13],
[1.26,-0.06],[1.30,0.50],[1.34,-0.06],[1.39,-0.16],[1.40,-0.12],[1.40,-0.05],[1.42,0.04],[1.42,0.13],
[1.42,0.20],[1.46,-0.02],[1.42,0.53],[1.44,0.53],[1.47,-0.28],[1.50,0.42],[1.49,0.29],[1.52,0.53],
[1.57,-0.06],[1.58,0.18],[1.61,0.50],[1.67,0.41],[1.68,0.17],[1.70,0.07],[1.74,0.12],[1.76,-0.02],
[1.76,-0.13],[1.79,-0.21],[1.78,-0.25],[1.79,-0.06],
[1.78,0.58],[1.78,0.54],[1.78,0.49],[1.78,0.38],[1.78,0.34],[1.78,0.29],[1.78,0.25],[1.78,0.15],
[1.78,0.11],[1.78,0.07],[1.78,0.02],
[1.66,1.56],[1.14,0.85],[1.15,0.79],[1.33,0.81],[1.52,0.92],[1.56,0.71],[1.64,1.05],[1.79,1.09],
[1.78,0.96],[1.78,0.82],[1.78,0.71],[1.79,1.44],[1.43,0.51],[1.67,0.85]
];
const ampCrossB = [
[-0.55,1.53],[-0.54,1.41],[-0.53,1.34],[-0.57,1.01],[-0.56,0.89],[-0.55,0.50],[-0.54,0.49],[-0.55,0.42],
[-0.53,0.29],[-0.54,0.15],[-0.60,-0.08],[-0.54,-0.33],[-0.54,-0.75],[-0.81,-0.44],
[-0.20,1.18],[-0.20,0.61],[-0.13,1.12],[-0.11,1.01],[-0.19,0.16],[-0.06,-0.37],
[0.03,0.08],[0.02,0.03],[0.15,-0.48],[0.22,0.03],[0.33,-0.09],[0.35,-0.13],[0.35,-0.28],[0.35,-0.30],
[0.49,0.43],[0.57,0.40],[0.55,0.03],[0.57,0.04],[0.71,0.08],[0.76,-0.16],[0.84,-0.02],[0.85,0.58],
[0.85,0.37],[0.80,-0.01],[0.84,-0.26],[0.92,0.02],[0.99,0.06],[1.01,0.30],[1.04,0.46],[1.08,0.06],
[1.09,0.17],[1.11,0.54],[1.11,0.41],[1.11,0.35],[1.11,0.02],[1.12,-0.05],[1.12,-0.09],[1.12,-0.13],
[1.21,0.00],[1.22,-0.04],[1.27,-0.02],[1.11,1.02],[1.11,0.89],[1.12,0.81],[1.11,0.71],[1.01,0.82],
[1.03,0.69]
];

// ---------------- LAYOUT ----------------
const svg = d3.select("#chart");
const RED = "#b44846", BG = "#eaeaf2", SPINE = "#b4b4b4";
const P = {
  tl:{x0:92,x1:640,y0:16,y1:514}, tr:{x0:645,x1:1193,y0:16,y1:514},
  bl:{x0:92,x1:640,y0:581,y1:829}, br:{x0:645,x1:1193,y0:581,y1:829}
};
const fluxDom = [10**2.844, 10**6.698], frmsDom = [10**-3.049, 1];
const perDom = [10**-1.155, 10**1.843], ampDom = [10**-1.148, 10**2.174];

function scales(p, xd, yd){
  return { x:d3.scaleLog().domain(xd).range([p.x0,p.x1]),
           y:d3.scaleLog().domain(yd).range([p.y1,p.y0]) };
}
function minorVals(dom){
  const out=[]; const lo=Math.log10(dom[0]), hi=Math.log10(dom[1]);
  for(let e=Math.floor(lo); e<=Math.ceil(hi); e++) for(let m=2;m<10;m++){
    const v=m*10**e, l=Math.log10(v); if(l>=lo && l<=hi) out.push(v);
  }
  return out;
}
let clipId=0;
function panel(p, xd, yd, xMaj, yMaj){
  const s = scales(p, xd, yd);
  const g = svg.append("g");
  g.append("rect").attr("x",p.x0).attr("y",p.y0).attr("width",p.x1-p.x0).attr("height",p.y1-p.y0).attr("fill",BG);
  const grid = g.append("g").attr("stroke","#fff").attr("stroke-width",1.5);
  xMaj.forEach(v=>grid.append("line").attr("x1",s.x(v)).attr("x2",s.x(v)).attr("y1",p.y0).attr("y2",p.y1));
  yMaj.forEach(v=>grid.append("line").attr("y1",s.y(v)).attr("y2",s.y(v)).attr("x1",p.x0).attr("x2",p.x1));
  const id = "clip"+(clipId++);
  svg.append("clipPath").attr("id",id).append("rect").attr("x",p.x0).attr("y",p.y0).attr("width",p.x1-p.x0).attr("height",p.y1-p.y0);
  const plot = g.append("g").attr("clip-path",`url(#${id})`);
  s.g=g; s.plot=plot; s.p=p; s.xMaj=xMaj; s.yMaj=yMaj; s.xd=xd; s.yd=yd;
  return s;
}
function finishAxes(s){
  const {g,p,x,y}=s;
  const xm=minorVals(s.xd), ym=minorVals(s.yd);
  const add=(axis, tr, vals, size)=>{
    const a=g.append("g").attr("transform",tr).call(axis.tickValues(vals).tickSize(size).tickFormat(""));
    a.select(".domain").remove();
    a.selectAll("text").remove();
    a.selectAll("line").attr("stroke",SPINE).attr("stroke-width",1.3);
  };
  add(d3.axisBottom(x),`translate(0,${p.y1})`,s.xMaj,-7); add(d3.axisBottom(x),`translate(0,${p.y1})`,xm,-4);
  add(d3.axisTop(x),`translate(0,${p.y0})`,s.xMaj,-7); add(d3.axisTop(x),`translate(0,${p.y0})`,xm,-4);
  add(d3.axisLeft(y),`translate(${p.x0},0)`,s.yMaj,-7); add(d3.axisLeft(y),`translate(${p.x0},0)`,ym,-4);
  add(d3.axisRight(y),`translate(${p.x1},0)`,s.yMaj,-7); add(d3.axisRight(y),`translate(${p.x1},0)`,ym,-4);
  g.append("rect").attr("x",p.x0).attr("y",p.y0).attr("width",p.x1-p.x0).attr("height",p.y1-p.y0)
    .attr("fill","none").attr("stroke",SPINE).attr("stroke-width",2);
}
function expandCols(cols){ const out=[]; cols.forEach(c=>{for(let i=1;i<c.length;i++) out.push([c[0],c[i]]);}); return out; }
function drawGray(s, pts){
  s.plot.append("g").selectAll("circle").data(pts).join("circle")
    .attr("cx",d=>s.x(10**d[0])).attr("cy",d=>s.y(10**d[1])).attr("r",3.8)
    .attr("fill","#c8c8c8").attr("stroke","#474747").attr("stroke-width",0.8);
}
function drawRed(s, pts, r){
  s.plot.append("g").selectAll("circle").data(pts).join("circle")
    .attr("cx",d=>s.x(10**d[0])).attr("cy",d=>s.y(10**d[1])).attr("r",r)
    .attr("fill",RED).attr("stroke","#983a39").attr("stroke-width",0.5);
}
function drawCross(s, pts){
  s.plot.append("g").selectAll("path").data(pts).join("path")
    .attr("transform",d=>`translate(${s.x(10**d[0])},${s.y(10**d[1])})`)
    .attr("d","M-3.3,-3.3L3.3,3.3M-3.3,3.3L3.3,-3.3")
    .attr("stroke",RED).attr("stroke-width",1.1).attr("fill","none");
}
function supText(sel, base, exp, size){
  sel.append("tspan").text(base);
  sel.append("tspan").attr("dy",-0.45*size).attr("font-size",size*0.7).text(exp);
}

// ---------------- TOP PANELS ----------------
const sTL = panel(P.tl, fluxDom, frmsDom, fluxTicks, frmsTicks);
const sTR = panel(P.tr, fluxDom, frmsDom, fluxTicks, frmsTicks);
drawGray(sTL, expandCols(grayColsA).concat(expandCols(grayColsA2), grayPtsA));
drawRed(sTL, expandCols(redColsA).concat(redPtsA), 4.3);
drawGray(sTR, expandCols(grayColsB).concat(expandCols(grayColsB2), grayPtsB));
drawRed(sTR, redPtsB, 4.3);
[sTL,sTR].forEach((s,i)=>{
  finishAxes(s);
  svg.append("text").attr("x",s.p.x1-18).attr("y",s.p.y0+35).attr("text-anchor","end")
    .attr("font-size",26).text(fieldNames[i]);
  fluxTicks.forEach((v,j)=>{
    const t=svg.append("text").attr("x",s.x(v)+3).attr("y",s.p.y1+23).attr("text-anchor","middle").attr("font-size",20);
    supText(t,"10",fluxTickExp[j],20);
  });
  const lab=svg.append("text").attr("x",(s.p.x0+s.p.x1)/2).attr("y",560).attr("text-anchor","middle").attr("font-size",23);
  lab.append("tspan").text("Flux (e");
  lab.append("tspan").attr("dy",-8).attr("dx",1).attr("font-size",16).text("\u2212");
  lab.append("tspan").attr("dy",8).attr("dx",3).text("/10 s)");
});
frmsTicks.forEach((v,j)=>{
  const t=svg.append("text").attr("x",82).attr("y",sTL.y(v)+7).attr("text-anchor","end").attr("font-size",20);
  supText(t,"10",frmsTickExp[j],20);
});
{
  const t=svg.append("text").attr("transform","translate(29,265) rotate(-90)").attr("text-anchor","middle").attr("font-size",23);
  t.append("tspan").attr("font-style","italic").text("F");
  t.append("tspan").attr("font-size",15).attr("dy",4).text("rms");
}

// ---------------- BOTTOM PANELS ----------------
const sBL = panel(P.bl, perDom, ampDom, periodTicks, ampTicks);
const sBR = panel(P.br, perDom, ampDom, periodTicks, ampTicks);
drawCross(sBL, ampCrossA); drawRed(sBL, ampDotsA, 4.4);
drawCross(sBR, ampCrossB); drawRed(sBR, ampDotsB, 4.4);
[sBL,sBR].forEach(s=>{
  finishAxes(s);
  periodTicks.forEach((v,j)=>{
    const t=svg.append("text").attr("x",s.x(v)+3).attr("y",s.p.y1+26).attr("text-anchor","middle").attr("font-size",20);
    supText(t,"10",periodTickExp[j],20);
  });
  svg.append("text").attr("x",(s.p.x0+s.p.x1)/2).attr("y",885).attr("text-anchor","middle").attr("font-size",23).text("Period (d)");
});
ampTicks.forEach((v,j)=>{
  svg.append("text").attr("x",82).attr("y",sBL.y(v)+7).attr("text-anchor","end").attr("font-size",20).text(ampTickLabels[j]);
});
svg.append("text").attr("transform","translate(40,705) rotate(-90)").attr("text-anchor","middle").attr("font-size",23).text("Semi-amplitude (%)");
</script></body></html>
